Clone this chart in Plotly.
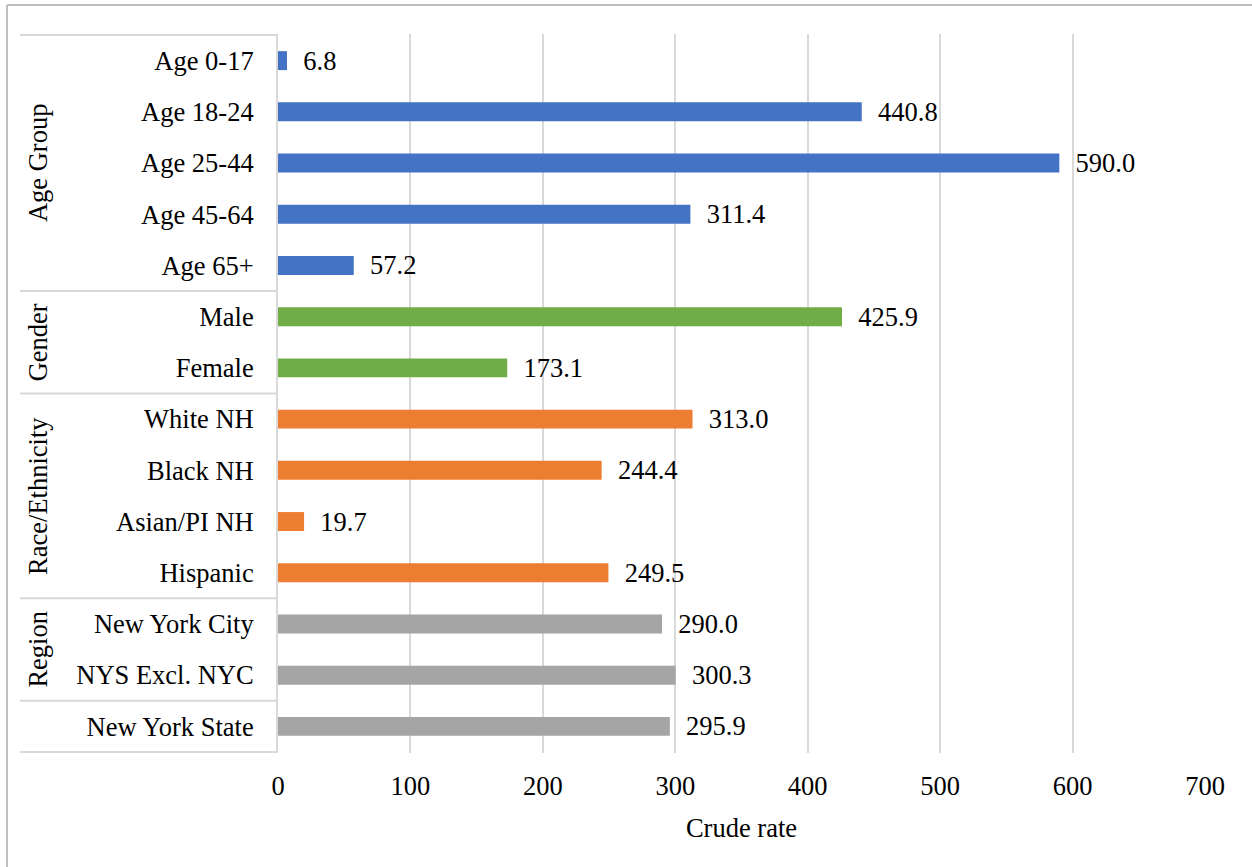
import plotly.graph_objects as go

# data, top to bottom as drawn
categories = ["Age 0-17", "Age 18-24", "Age 25-44", "Age 45-64", "Age 65+",
              "Male", "Female",
              "White NH", "Black NH", "Asian/PI NH", "Hispanic",
              "New York City", "NYS Excl. NYC",
              "New York State"]
groups = ["Age Group"] * 5 + ["Gender"] * 2 + ["Race/Ethnicity"] * 4 + ["Region"] * 2 + [""]
rates = [6.8, 440.8, 590.0, 311.4, 57.2,
         425.9, 173.1,
         313.0, 244.4, 19.7, 249.5,
         290.0, 300.3,
         295.9]
x_ticks = [0, 100, 200, 300, 400, 500, 600, 700]

group_colors = {"Age Group": "#4472C4", "Gender": "#70AD47",
                "Race/Ethnicity": "#ED7D31", "Region": "#A5A5A5", "": "#A5A5A5"}

FONT = "Liberation Serif, Times New Roman, serif"
FS = 26.5
GRID = "#D9D9D9"

fig = go.Figure()
fig.add_trace(go.Bar(
    x=rates, y=categories, orientation="h",
    marker=dict(color=[group_colors[g] for g in groups], line_width=0),
    width=0.37,
    texttemplate="\u00a0\u00a0%{x:.1f}", textposition="outside", constraintext="none",
    textfont=dict(family=FONT, size=FS, color="#000000"),
    cliponaxis=False, hoverinfo="x+y",
))

fig.update_layout(
    width=1252, height=867,
    margin=dict(l=278, r=47, t=34, b=114),
    paper_bgcolor="white", plot_bgcolor="white",
    showlegend=False,
    font=dict(family=FONT, size=FS, color="#000000"),
)
fig.update_xaxes(range=[0, 700], tickvals=x_ticks, showgrid=True, gridcolor=GRID, gridwidth=2,
                 zeroline=False, showline=False, ticks="", ticklabelstandoff=14,
                 tickfont=dict(size=FS),
                 title=dict(text="Crude rate", standoff=18, font=dict(size=FS)))
fig.update_yaxes(autorange="reversed", showgrid=False, zeroline=False,
                 showline=True, linecolor=GRID, linewidth=2, ticks="",
                 ticklabelstandoff=17, tickfont=dict(size=FS))

# group labels and separators of the category frame
x_frame = (20 - 278) / 927
spans = []
for i, g in enumerate(groups):
    if spans and spans[-1][0] == g:
        spans[-1][2] = i
    else:
        spans.append([g, i, i])

for g, i0, i1 in spans:
    if g:
        fig.add_annotation(text=g, textangle=-90, xref="paper", yref="y",
                           x=(38 - 278) / 927, y=(i0 + i1) / 2, showarrow=False,
                           xanchor="center", yanchor="middle", font=dict(size=FS))
    for yv in ([i0 - 0.5] if i0 == 0 else []) + [i1 + 0.5]:
        fig.add_shape(type="line", xref="paper", yref="y", x0=x_frame, x1=0,
                      y0=yv, y1=yv, line=dict(color=GRID, width=2))

# outer chart border (top and left)
bx = (7 - 278) / 927
by_top = (753 - 5) / 719
by_bot = (753 - 867) / 719
fig.add_shape(type="line", xref="paper", yref="paper", x0=bx, x1=bx, y0=by_bot, y1=by_top,
              line=dict(color="#BFBFBF", width=2))
fig.add_shape(type="line", xref="paper", yref="paper", x0=bx, x1=(1252 - 278) / 927,
              y0=by_top, y1=by_top, line=dict(color="#BFBFBF", width=2))

fig.write_html("out.html", config={"displayModeBar": False},
               post_script="document.body.style.margin='0';")
